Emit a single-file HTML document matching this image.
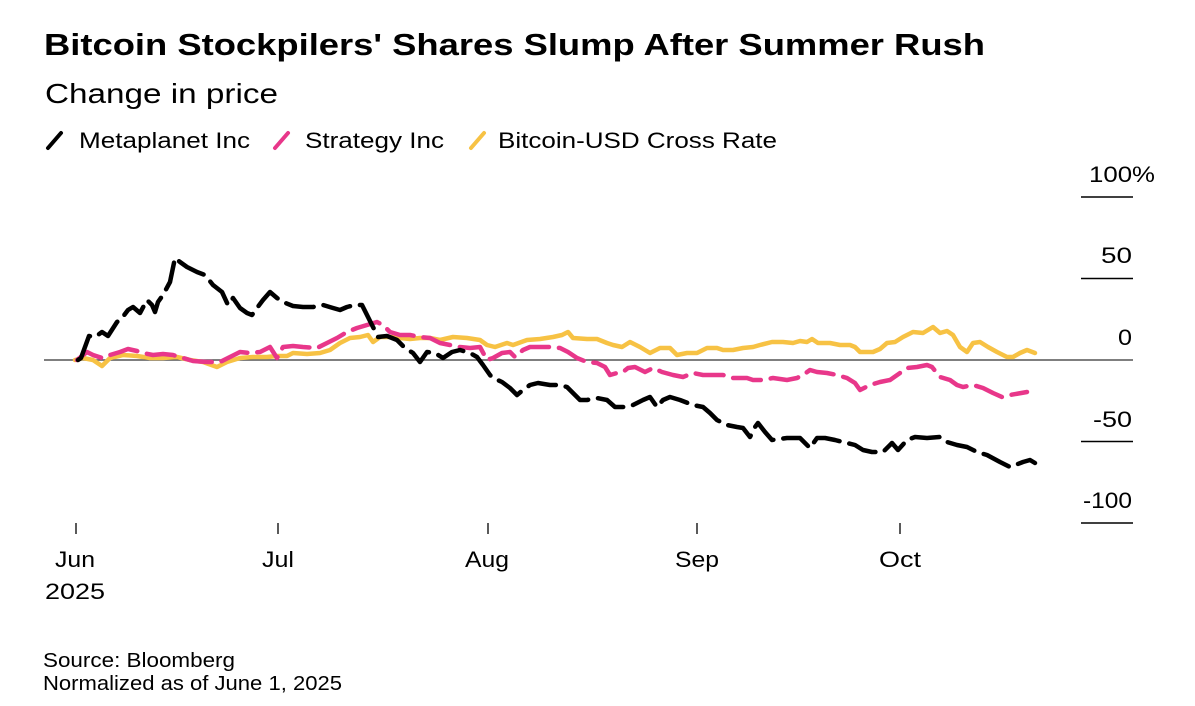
<!DOCTYPE html>
<html>
<head>
<meta charset="utf-8">
<style>
  html, body { margin:0; padding:0; background:#fff; }
  svg { display:block; }
  text { font-family: "Liberation Sans", Arial, sans-serif; fill:#000; }
</style>
</head>
<body>
<svg width="1195" height="706" viewBox="0 0 1195 706" xmlns="http://www.w3.org/2000/svg">
  <rect width="1195" height="706" fill="#fff"/>

  <!-- Title / subtitle -->
  <text x="44" y="55" font-size="31" font-weight="bold" textLength="941" lengthAdjust="spacingAndGlyphs">Bitcoin Stockpilers' Shares Slump After Summer Rush</text>
  <text x="45" y="103" font-size="28" textLength="233" lengthAdjust="spacingAndGlyphs">Change in price</text>

  <!-- Legend -->
  <line x1="48" y1="148" x2="61" y2="133" stroke="#000" stroke-width="4" stroke-linecap="round"/>
  <text x="79" y="148" font-size="22" textLength="171" lengthAdjust="spacingAndGlyphs">Metaplanet Inc</text>
  <line x1="275" y1="148" x2="288" y2="133" stroke="#e8378a" stroke-width="4" stroke-linecap="round"/>
  <text x="305" y="148" font-size="22" textLength="139" lengthAdjust="spacingAndGlyphs">Strategy Inc</text>
  <line x1="471" y1="148" x2="484" y2="133" stroke="#f7c244" stroke-width="4" stroke-linecap="round"/>
  <text x="498" y="148" font-size="22" textLength="279" lengthAdjust="spacingAndGlyphs">Bitcoin-USD Cross Rate</text>

  <!-- Y axis ticks and labels -->
  <g stroke="#000" stroke-width="1.5">
    <line x1="1081" y1="197" x2="1133" y2="197"/>
    <line x1="1081" y1="278.5" x2="1133" y2="278.5"/>
    <line x1="1081" y1="441.5" x2="1133" y2="441.5"/>
    <line x1="1081" y1="523" x2="1133" y2="523"/>
  </g>
  <line x1="44" y1="360" x2="1133" y2="360" stroke="#555" stroke-width="1.5"/>
  <text x="1089" y="182" font-size="22" textLength="66" lengthAdjust="spacingAndGlyphs">100%</text>
  <text x="1101" y="263" font-size="22" textLength="31" lengthAdjust="spacingAndGlyphs">50</text>
  <text x="1118" y="345" font-size="22" textLength="14" lengthAdjust="spacingAndGlyphs">0</text>
  <text x="1093" y="427" font-size="22" textLength="39" lengthAdjust="spacingAndGlyphs">-50</text>
  <text x="1083" y="508" font-size="22" textLength="49" lengthAdjust="spacingAndGlyphs">-100</text>

  <!-- X axis ticks and labels -->
  <g stroke="#000" stroke-width="1.3">
    <line x1="76" y1="523" x2="76" y2="534"/>
    <line x1="278" y1="523" x2="278" y2="534"/>
    <line x1="488" y1="523" x2="488" y2="534"/>
    <line x1="697" y1="523" x2="697" y2="534"/>
    <line x1="900" y1="523" x2="900" y2="534"/>
  </g>
  <text x="55" y="567" font-size="22" textLength="40" lengthAdjust="spacingAndGlyphs">Jun</text>
  <text x="45" y="599" font-size="22" textLength="60" lengthAdjust="spacingAndGlyphs">2025</text>
  <text x="262" y="567" font-size="22" textLength="32" lengthAdjust="spacingAndGlyphs">Jul</text>
  <text x="465" y="567" font-size="22" textLength="44" lengthAdjust="spacingAndGlyphs">Aug</text>
  <text x="675" y="567" font-size="22" textLength="44" lengthAdjust="spacingAndGlyphs">Sep</text>
  <text x="879" y="567" font-size="22" textLength="42" lengthAdjust="spacingAndGlyphs">Oct</text>

  <!-- Series -->
  <g fill="none" stroke-width="4.5" stroke-linecap="round" stroke-linejoin="round">
    <polyline stroke="#f7c244" points="75,360 83,358 93,360 102,366 110,358 123,355 137,356 150,358 163,358 177,357 190,360 203,362 217,367 227,362 240,358 253,357 267,357 277,356 287,356 293,353 307,354 320,353 330,350 340,343 350,338 360,337 368,335 373,342 380,337 390,337 400,338 410,339 420,338 430,338 440,340 453,337 467,338 480,340 487,345 495,347 507,343 513,345 527,340 540,339 553,337 562,335 568,332 573,338 587,339 597,339 607,343 613,345 622,347 630,342 640,347 650,353 660,348 670,348 677,355 687,353 697,353 707,348 717,348 723,350 733,350 743,348 753,347 760,345 772,342 783,342 793,343 800,341 807,342 812,339 818,343 830,343 840,345 850,345 855,347 860,352 873,352 880,349 887,343 895,342 903,337 913,332 923,333 933,327 940,333 947,331 953,335 960,347 967,352 973,343 980,342 988,347 997,352 1007,357 1013,357 1020,353 1027,350 1035,353"/>
    <polyline stroke="#e8378a" stroke-dasharray="28 10" points="77,360 87,352 93,355 102,358 110,355 120,352 128,349 137,351 143,353 153,355 163,354 173,355 183,358 193,361 207,362 220,362 230,357 240,352 250,353 260,352 270,347 277,358 283,347 293,346 303,347 317,348 327,343 337,338 347,332 357,328 367,325 377,322 383,325 390,332 400,335 410,335 420,337 430,338 440,343 450,345 460,347 470,348 480,347 487,360 493,358 502,353 510,352 515,357 523,350 530,347 540,347 550,347 560,348 568,352 577,358 587,362 597,363 605,367 610,375 617,373 623,372 628,368 635,367 645,372 653,368 662,372 673,375 683,377 693,373 703,375 713,375 723,375 733,378 747,378 753,380 763,380 773,378 787,380 797,378 803,375 810,370 817,372 827,373 837,375 847,378 855,383 860,390 870,385 880,382 890,380 900,373 907,368 917,367 927,365 932,367 940,377 950,380 957,385 963,387 973,385 983,388 993,393 1002,397 1010,395 1027,392"/>
    <polyline stroke="#000" stroke-dasharray="28 10" points="78,360 81,358 89,336 95,337 102,332 108,336 117,322 122,318 128,310 133,307 140,313 147,300 152,305 155,312 158,302 163,295 170,282 175,258 180,262 187,267 197,272 205,275 213,285 222,292 228,305 233,298 240,308 247,313 252,315 257,308 263,300 270,292 277,298 283,302 293,306 303,307 313,307 323,305 333,308 340,310 347,307 355,305 362,305 368,317 373,327 378,337 387,336 397,340 405,348 413,353 420,362 427,352 435,353 443,358 452,352 460,350 470,353 477,357 483,365 490,375 493,378 502,382 510,388 517,395 523,390 530,385 538,383 550,385 560,385 567,387 573,393 580,400 587,400 597,398 607,400 615,407 623,407 633,405 643,400 650,397 657,407 663,400 670,397 680,400 693,405 703,407 710,413 717,420 727,425 737,427 743,428 750,437 755,427 758,423 765,432 772,440 787,438 800,438 810,448 817,438 825,438 835,440 843,442 855,445 863,450 872,452 883,452 892,443 898,450 907,440 915,437 927,438 940,437 947,442 957,445 967,447 977,452 987,455 1000,462 1010,467 1023,462 1030,460 1035,463"/>
  </g>

  <!-- Footer -->
  <text x="43" y="667" font-size="20" textLength="192" lengthAdjust="spacingAndGlyphs">Source: Bloomberg</text>
  <text x="43" y="690" font-size="20" textLength="299" lengthAdjust="spacingAndGlyphs">Normalized as of June 1, 2025</text>
</svg>
</body>
</html>
